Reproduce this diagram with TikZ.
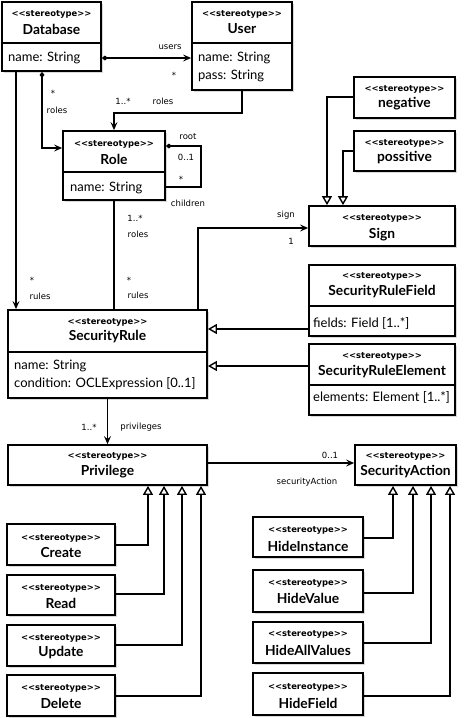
\documentclass[tikz,border=0pt]{standalone}
\usepackage{fontspec}
\setmainfont{Lato}
\newfontfamily\smallfont{DejaVu Sans}
\usetikzlibrary{arrows.meta,shadows,fit}
\newcommand\sttext{<{}<stereotype>{}>}
\tikzset{
  box/.style={draw, line width=1.8pt, fill=white, inner sep=0pt,
    drop shadow={shadow xshift=1.5pt, shadow yshift=-1.5pt, opacity=0.3}},
  ster/.style={font=\smallfont\bfseries\fontsize{8.4}{10}\selectfont, inner sep=0pt},
  cname/.style={font=\bfseries\fontsize{13.8}{15}\selectfont, inner sep=0pt},
  attr/.style={font=\fontsize{13}{15}\selectfont, inner sep=0pt, anchor=west},
  lab/.style={font=\smallfont\fontsize{8.5}{10}\selectfont, inner sep=0pt},
  conn/.style={line width=1.5pt},
  divl/.style={line width=1.8pt},
  navtip/.tip={Stealth[length=8pt,width=7pt,inset=3pt]},
  gentip/.tip={Triangle[open,length=9pt,width=10pt,line width=1.4pt]},
  dia/.tip={Diamond[length=6pt,width=5pt]},
}
\newcommand\cls[8]{%
  \node[box, fit={(#2,#3) (#4,#5)}] (#1) {};
  \node[ster] (#1-st) at (#1.center |- 0,#6) {\sttext};
  \node[cname] (#1-nm) at (#1.center |- 0,#7) {#8};}
\begin{document}
\begin{tikzpicture}[x=1pt,y=-1pt]
\useasboundingbox (0,0) rectangle (464,718);
% boxes
\cls{db}{2}{2}{101}{71}{14}{29}{Database}
\cls{user}{192}{2}{292}{90}{14}{29}{User}
\cls{role}{63}{131}{165}{200}{144}{159}{Role}
\cls{neg}{354}{77}{455}{118}{89}{104}{negative}
\cls{pos}{354}{131}{455}{171}{143}{158}{possitive}
\cls{sign}{309}{206}{455}{246}{218}{235}{Sign}
\cls{srf}{309}{265}{455}{336}{276}{292}{SecurityRuleField}
\cls{sre}{309}{344}{455}{415}{356}{372}{SecurityRuleElement}
\cls{sr}{8}{310}{207}{398}{322}{337}{SecurityRule}
\cls{priv}{8}{445}{207}{485}{456}{472}{Privilege}
\cls{sa}{355}{445}{456}{485}{456}{472}{SecurityAction}
\cls{create}{7}{524}{115}{565}{538}{553}{Create}
\cls{read}{7}{575}{115}{615}{588}{603}{Read}
\cls{update}{7}{625}{115}{666}{638}{653}{Update}
\cls{delete}{7}{675}{115}{716}{688}{703}{Delete}
\cls{hinst}{253}{517}{363}{557}{530}{546}{HideInstance}
\cls{hval}{253}{570}{363}{612}{583}{598}{HideValue}
\cls{hall}{253}{622}{363}{663}{634}{650}{HideAllValues}
\cls{hfield}{253}{673}{363}{715}{687}{703}{HideField}
% dividers
\draw[divl] (db.west |- 0,43) -- (db.east |- 0,43);
\draw[divl] (user.west |- 0,43) -- (user.east |- 0,43);
\draw[divl] (role.west |- 0,172) -- (role.east |- 0,172);
\draw[divl] (srf.west |- 0,306) -- (srf.east |- 0,306);
\draw[divl] (sre.west |- 0,385) -- (sre.east |- 0,385);
\draw[divl] (sr.west |- 0,352) -- (sr.east |- 0,352);
% attributes
\node[attr] (db-a1) at (8,58) {name: String};
\node[attr] (user-a1) at (198,58) {name: String};
\node[attr] (user-a2) at (198,76) {pass: String};
\node[attr] (role-a1) at (70,188) {name: String};
\node[attr] (sr-a1) at (14,366) {name: String};
\node[attr] (sr-a2) at (14,384) {condition: OCLExpression [0..1]};
\node[attr] (srf-a1) at (313,323) {fields: Field [1..*]};
\node[attr] (sre-a1) at (313,397) {elements: Element [1..*]};
% connectors
\draw[conn, dia-navtip] (db.east |- 0,58) -- (user.west |- 0,58);
\draw[conn, dia-navtip] (db.south -| 42,0) |- (role.west |- 0,148);
\draw[conn, -navtip] (user.south -| 242,0) |- (114,113) -- (role.north -| 114,0);
\draw[conn, dia-] (role.east |- 0,146) -| (201,187) -- (role.east |- 0,187);
\draw[conn, -navtip] (db.south -| 16,0) -- (sr.north -| 16,0);
\draw[conn] (role.south) -- (sr.north -| role.south);
\draw[conn, -navtip] (sr.north -| 198,0) |- (sign.west |- 0,228);
\draw[conn, -gentip] (neg.west |- 0,97) -| (sign.north -| 327,0);
\draw[conn, -gentip] (pos.west |- 0,151) -| (sign.north -| 343,0);
\draw[conn, -gentip] (srf.west |- 0,329) -- (sr.east |- 0,329);
\draw[conn, -gentip] (sre.west |- 0,366) -- (sr.east |- 0,366);
\draw[conn, -navtip] (sr.south) -- (priv.north -| sr.south);
\draw[conn, -navtip] (priv.east |- 0,463) -- (sa.west |- 0,463);
\draw[conn, -gentip] (create.east |- 0,545) -| (priv.south -| 148,0);
\draw[conn, -gentip] (read.east |- 0,594) -| (priv.south -| 164,0);
\draw[conn, -gentip] (update.east |- 0,645) -| (priv.south -| 182,0);
\draw[conn, -gentip] (delete.east |- 0,696) -| (priv.south -| 201,0);
\draw[conn, -gentip] (hinst.east |- 0,538) -| (sa.south -| 393,0);
\draw[conn, -gentip] (hval.east |- 0,593) -| (sa.south -| 413,0);
\draw[conn, -gentip] (hall.east |- 0,643) -| (sa.south -| 431,0);
\draw[conn, -gentip] (hfield.east |- 0,696) -| (sa.south -| 450,0);
% labels
\node[lab] (l1) at (170,47) {users};
\node[lab] (l2) at (174,75) {*};
\node[lab] (l3) at (123,101) {1..*};
\node[lab] (l4) at (163,101) {roles};
\node[lab] (l5) at (53,93) {*};
\node[lab] (l6) at (57,110) {roles};
\node[lab] (l7) at (188,137) {root};
\node[lab] (l8) at (186,157) {0..1};
\node[lab] (l9) at (181,179) {*};
\node[lab] (l10) at (188,203) {children};
\node[lab] (l11) at (135,218) {1..*};
\node[lab] (l12) at (138,234) {roles};
\node[lab] (l13) at (129,280) {*};
\node[lab] (l14) at (138,295) {rules};
\node[lab] (l15) at (32,280) {*};
\node[lab] (l16) at (40,296) {rules};
\node[lab] (l17) at (286,215) {sign};
\node[lab] (l18) at (291,241) {1};
\node[lab] (l19) at (89,427) {1..*};
\node[lab] (l20) at (141,427) {privileges};
\node[lab] (l21) at (330,455) {0..1};
\node[lab] (l22) at (307,482) {securityAction};
\end{tikzpicture}
\end{document}
